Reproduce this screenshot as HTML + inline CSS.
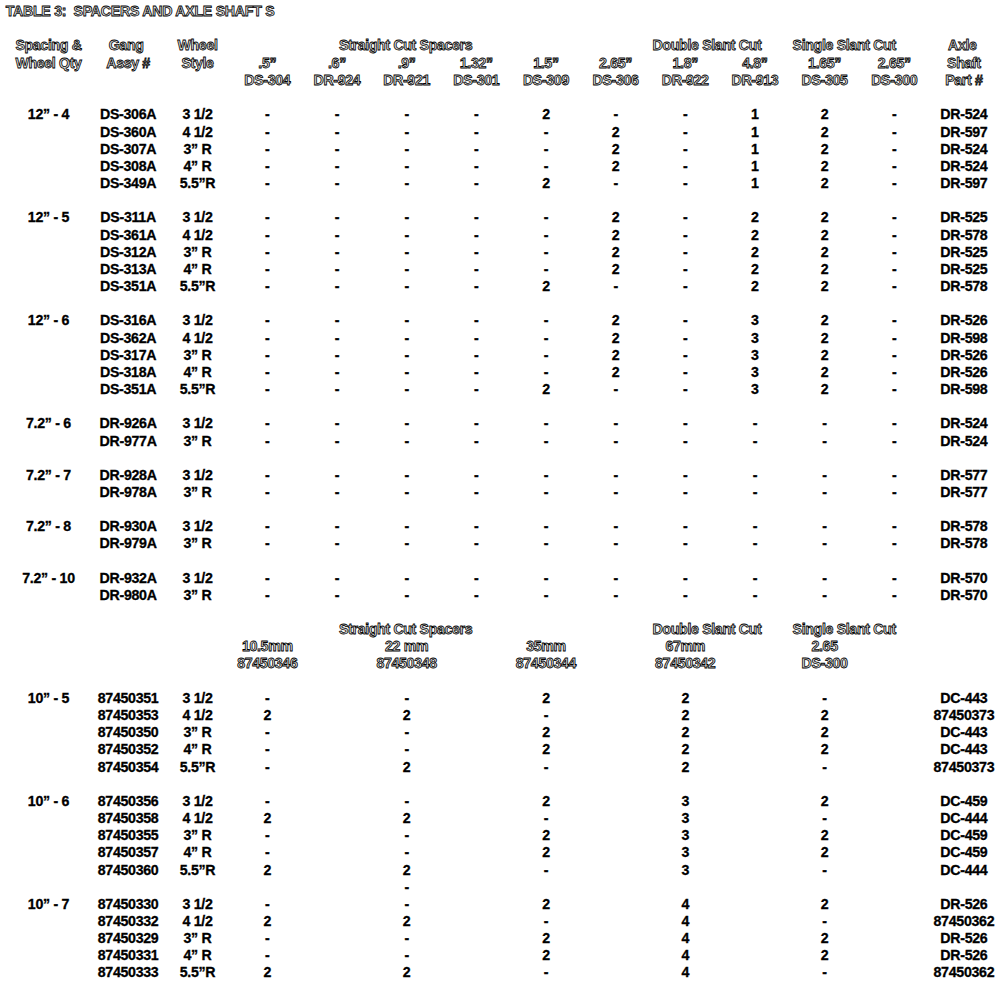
<!DOCTYPE html>
<html><head><meta charset="utf-8"><style>
html,body{margin:0;padding:0;background:#fff;}
body{width:1000px;height:984px;position:relative;overflow:hidden;font-family:"Liberation Sans",sans-serif;font-weight:bold;font-size:13.6px;line-height:17px;}
div{position:absolute;white-space:nowrap;height:17px;}
.c{width:120px;text-align:center;}
.d{color:#000;font-size:14.2px;letter-spacing:-0.3px;-webkit-text-stroke:0.3px #000;}
.h{color:#e2e2e2;font-size:14.2px;letter-spacing:-0.35px;-webkit-text-stroke:0.8px #000;}
</style></head><body>
<div class="h" style="left:5.70px;top:3.12px"><span style="letter-spacing:-0.28px">TABLE 3:&nbsp; SPACERS AND AXLE SHAFT S</span></div>
<div class="h c" style="left:-11.50px;top:37.44px">Spacing &amp;</div>
<div class="h c" style="left:-11.50px;top:54.60px">Wheel Qty</div>
<div class="h c" style="left:66.10px;top:37.44px">Gang</div>
<div class="h c" style="left:68.10px;top:54.60px">Assy #</div>
<div class="h c" style="left:137.50px;top:37.44px">Wheel</div>
<div class="h c" style="left:137.50px;top:54.60px">Style</div>
<div class="h" style="left:339.00px;top:37.44px">Straight Cut Spacers</div>
<div class="h" style="left:652.60px;top:37.44px">Double Slant Cut</div>
<div class="h" style="left:792.60px;top:37.44px">Single Slant Cut</div>
<div class="h c" style="left:902.40px;top:37.44px">Axle</div>
<div class="h c" style="left:903.90px;top:54.60px">Shaft</div>
<div class="h c" style="left:903.90px;top:71.76px">Part #</div>
<div class="h c" style="left:207.30px;top:54.60px">.5”</div>
<div class="h c" style="left:207.30px;top:71.76px">DS-304</div>
<div class="h c" style="left:276.96px;top:54.60px">.6”</div>
<div class="h c" style="left:276.96px;top:71.76px">DR-924</div>
<div class="h c" style="left:346.62px;top:54.60px">.9”</div>
<div class="h c" style="left:346.62px;top:71.76px">DR-921</div>
<div class="h c" style="left:416.28px;top:54.60px">1.32”</div>
<div class="h c" style="left:416.28px;top:71.76px">DS-301</div>
<div class="h c" style="left:485.94px;top:54.60px">1.5”</div>
<div class="h c" style="left:485.94px;top:71.76px">DS-309</div>
<div class="h c" style="left:555.60px;top:54.60px">2.65”</div>
<div class="h c" style="left:555.60px;top:71.76px">DS-306</div>
<div class="h c" style="left:625.26px;top:54.60px">1.8”</div>
<div class="h c" style="left:625.26px;top:71.76px">DR-922</div>
<div class="h c" style="left:694.92px;top:54.60px">4.8”</div>
<div class="h c" style="left:694.92px;top:71.76px">DR-913</div>
<div class="h c" style="left:764.58px;top:54.60px">1.65”</div>
<div class="h c" style="left:764.58px;top:71.76px">DS-305</div>
<div class="h c" style="left:834.24px;top:54.60px">2.65”</div>
<div class="h c" style="left:834.24px;top:71.76px">DS-300</div>
<div class="d c" style="left:-11.50px;top:106.48px">12” - 4</div>
<div class="d c" style="left:68.10px;top:106.48px">DS-306A</div>
<div class="d c" style="left:137.50px;top:106.48px">3 1/2</div>
<div class="d c" style="left:207.30px;top:106.48px">-</div>
<div class="d c" style="left:276.96px;top:106.48px">-</div>
<div class="d c" style="left:346.62px;top:106.48px">-</div>
<div class="d c" style="left:416.28px;top:106.48px">-</div>
<div class="d c" style="left:485.94px;top:106.48px">2</div>
<div class="d c" style="left:555.60px;top:106.48px">-</div>
<div class="d c" style="left:625.26px;top:106.48px">-</div>
<div class="d c" style="left:694.92px;top:106.48px">1</div>
<div class="d c" style="left:764.58px;top:106.48px">2</div>
<div class="d c" style="left:834.24px;top:106.48px">-</div>
<div class="d c" style="left:903.90px;top:106.48px">DR-524</div>
<div class="d c" style="left:68.10px;top:123.64px">DS-360A</div>
<div class="d c" style="left:137.50px;top:123.64px">4 1/2</div>
<div class="d c" style="left:207.30px;top:123.64px">-</div>
<div class="d c" style="left:276.96px;top:123.64px">-</div>
<div class="d c" style="left:346.62px;top:123.64px">-</div>
<div class="d c" style="left:416.28px;top:123.64px">-</div>
<div class="d c" style="left:485.94px;top:123.64px">-</div>
<div class="d c" style="left:555.60px;top:123.64px">2</div>
<div class="d c" style="left:625.26px;top:123.64px">-</div>
<div class="d c" style="left:694.92px;top:123.64px">1</div>
<div class="d c" style="left:764.58px;top:123.64px">2</div>
<div class="d c" style="left:834.24px;top:123.64px">-</div>
<div class="d c" style="left:903.90px;top:123.64px">DR-597</div>
<div class="d c" style="left:68.10px;top:140.80px">DS-307A</div>
<div class="d c" style="left:137.50px;top:140.80px">3” R</div>
<div class="d c" style="left:207.30px;top:140.80px">-</div>
<div class="d c" style="left:276.96px;top:140.80px">-</div>
<div class="d c" style="left:346.62px;top:140.80px">-</div>
<div class="d c" style="left:416.28px;top:140.80px">-</div>
<div class="d c" style="left:485.94px;top:140.80px">-</div>
<div class="d c" style="left:555.60px;top:140.80px">2</div>
<div class="d c" style="left:625.26px;top:140.80px">-</div>
<div class="d c" style="left:694.92px;top:140.80px">1</div>
<div class="d c" style="left:764.58px;top:140.80px">2</div>
<div class="d c" style="left:834.24px;top:140.80px">-</div>
<div class="d c" style="left:903.90px;top:140.80px">DR-524</div>
<div class="d c" style="left:68.10px;top:157.96px">DS-308A</div>
<div class="d c" style="left:137.50px;top:157.96px">4” R</div>
<div class="d c" style="left:207.30px;top:157.96px">-</div>
<div class="d c" style="left:276.96px;top:157.96px">-</div>
<div class="d c" style="left:346.62px;top:157.96px">-</div>
<div class="d c" style="left:416.28px;top:157.96px">-</div>
<div class="d c" style="left:485.94px;top:157.96px">-</div>
<div class="d c" style="left:555.60px;top:157.96px">2</div>
<div class="d c" style="left:625.26px;top:157.96px">-</div>
<div class="d c" style="left:694.92px;top:157.96px">1</div>
<div class="d c" style="left:764.58px;top:157.96px">2</div>
<div class="d c" style="left:834.24px;top:157.96px">-</div>
<div class="d c" style="left:903.90px;top:157.96px">DR-524</div>
<div class="d c" style="left:68.10px;top:175.12px">DS-349A</div>
<div class="d c" style="left:137.50px;top:175.12px">5.5”R</div>
<div class="d c" style="left:207.30px;top:175.12px">-</div>
<div class="d c" style="left:276.96px;top:175.12px">-</div>
<div class="d c" style="left:346.62px;top:175.12px">-</div>
<div class="d c" style="left:416.28px;top:175.12px">-</div>
<div class="d c" style="left:485.94px;top:175.12px">2</div>
<div class="d c" style="left:555.60px;top:175.12px">-</div>
<div class="d c" style="left:625.26px;top:175.12px">-</div>
<div class="d c" style="left:694.92px;top:175.12px">1</div>
<div class="d c" style="left:764.58px;top:175.12px">2</div>
<div class="d c" style="left:834.24px;top:175.12px">-</div>
<div class="d c" style="left:903.90px;top:175.12px">DR-597</div>
<div class="d c" style="left:-11.50px;top:209.44px">12” - 5</div>
<div class="d c" style="left:68.10px;top:209.44px">DS-311A</div>
<div class="d c" style="left:137.50px;top:209.44px">3 1/2</div>
<div class="d c" style="left:207.30px;top:209.44px">-</div>
<div class="d c" style="left:276.96px;top:209.44px">-</div>
<div class="d c" style="left:346.62px;top:209.44px">-</div>
<div class="d c" style="left:416.28px;top:209.44px">-</div>
<div class="d c" style="left:485.94px;top:209.44px">-</div>
<div class="d c" style="left:555.60px;top:209.44px">2</div>
<div class="d c" style="left:625.26px;top:209.44px">-</div>
<div class="d c" style="left:694.92px;top:209.44px">2</div>
<div class="d c" style="left:764.58px;top:209.44px">2</div>
<div class="d c" style="left:834.24px;top:209.44px">-</div>
<div class="d c" style="left:903.90px;top:209.44px">DR-525</div>
<div class="d c" style="left:68.10px;top:226.60px">DS-361A</div>
<div class="d c" style="left:137.50px;top:226.60px">4 1/2</div>
<div class="d c" style="left:207.30px;top:226.60px">-</div>
<div class="d c" style="left:276.96px;top:226.60px">-</div>
<div class="d c" style="left:346.62px;top:226.60px">-</div>
<div class="d c" style="left:416.28px;top:226.60px">-</div>
<div class="d c" style="left:485.94px;top:226.60px">-</div>
<div class="d c" style="left:555.60px;top:226.60px">2</div>
<div class="d c" style="left:625.26px;top:226.60px">-</div>
<div class="d c" style="left:694.92px;top:226.60px">2</div>
<div class="d c" style="left:764.58px;top:226.60px">2</div>
<div class="d c" style="left:834.24px;top:226.60px">-</div>
<div class="d c" style="left:903.90px;top:226.60px">DR-578</div>
<div class="d c" style="left:68.10px;top:243.76px">DS-312A</div>
<div class="d c" style="left:137.50px;top:243.76px">3” R</div>
<div class="d c" style="left:207.30px;top:243.76px">-</div>
<div class="d c" style="left:276.96px;top:243.76px">-</div>
<div class="d c" style="left:346.62px;top:243.76px">-</div>
<div class="d c" style="left:416.28px;top:243.76px">-</div>
<div class="d c" style="left:485.94px;top:243.76px">-</div>
<div class="d c" style="left:555.60px;top:243.76px">2</div>
<div class="d c" style="left:625.26px;top:243.76px">-</div>
<div class="d c" style="left:694.92px;top:243.76px">2</div>
<div class="d c" style="left:764.58px;top:243.76px">2</div>
<div class="d c" style="left:834.24px;top:243.76px">-</div>
<div class="d c" style="left:903.90px;top:243.76px">DR-525</div>
<div class="d c" style="left:68.10px;top:260.92px">DS-313A</div>
<div class="d c" style="left:137.50px;top:260.92px">4” R</div>
<div class="d c" style="left:207.30px;top:260.92px">-</div>
<div class="d c" style="left:276.96px;top:260.92px">-</div>
<div class="d c" style="left:346.62px;top:260.92px">-</div>
<div class="d c" style="left:416.28px;top:260.92px">-</div>
<div class="d c" style="left:485.94px;top:260.92px">-</div>
<div class="d c" style="left:555.60px;top:260.92px">2</div>
<div class="d c" style="left:625.26px;top:260.92px">-</div>
<div class="d c" style="left:694.92px;top:260.92px">2</div>
<div class="d c" style="left:764.58px;top:260.92px">2</div>
<div class="d c" style="left:834.24px;top:260.92px">-</div>
<div class="d c" style="left:903.90px;top:260.92px">DR-525</div>
<div class="d c" style="left:68.10px;top:278.08px">DS-351A</div>
<div class="d c" style="left:137.50px;top:278.08px">5.5”R</div>
<div class="d c" style="left:207.30px;top:278.08px">-</div>
<div class="d c" style="left:276.96px;top:278.08px">-</div>
<div class="d c" style="left:346.62px;top:278.08px">-</div>
<div class="d c" style="left:416.28px;top:278.08px">-</div>
<div class="d c" style="left:485.94px;top:278.08px">2</div>
<div class="d c" style="left:555.60px;top:278.08px">-</div>
<div class="d c" style="left:625.26px;top:278.08px">-</div>
<div class="d c" style="left:694.92px;top:278.08px">2</div>
<div class="d c" style="left:764.58px;top:278.08px">2</div>
<div class="d c" style="left:834.24px;top:278.08px">-</div>
<div class="d c" style="left:903.90px;top:278.08px">DR-578</div>
<div class="d c" style="left:-11.50px;top:312.40px">12” - 6</div>
<div class="d c" style="left:68.10px;top:312.40px">DS-316A</div>
<div class="d c" style="left:137.50px;top:312.40px">3 1/2</div>
<div class="d c" style="left:207.30px;top:312.40px">-</div>
<div class="d c" style="left:276.96px;top:312.40px">-</div>
<div class="d c" style="left:346.62px;top:312.40px">-</div>
<div class="d c" style="left:416.28px;top:312.40px">-</div>
<div class="d c" style="left:485.94px;top:312.40px">-</div>
<div class="d c" style="left:555.60px;top:312.40px">2</div>
<div class="d c" style="left:625.26px;top:312.40px">-</div>
<div class="d c" style="left:694.92px;top:312.40px">3</div>
<div class="d c" style="left:764.58px;top:312.40px">2</div>
<div class="d c" style="left:834.24px;top:312.40px">-</div>
<div class="d c" style="left:903.90px;top:312.40px">DR-526</div>
<div class="d c" style="left:68.10px;top:329.56px">DS-362A</div>
<div class="d c" style="left:137.50px;top:329.56px">4 1/2</div>
<div class="d c" style="left:207.30px;top:329.56px">-</div>
<div class="d c" style="left:276.96px;top:329.56px">-</div>
<div class="d c" style="left:346.62px;top:329.56px">-</div>
<div class="d c" style="left:416.28px;top:329.56px">-</div>
<div class="d c" style="left:485.94px;top:329.56px">-</div>
<div class="d c" style="left:555.60px;top:329.56px">2</div>
<div class="d c" style="left:625.26px;top:329.56px">-</div>
<div class="d c" style="left:694.92px;top:329.56px">3</div>
<div class="d c" style="left:764.58px;top:329.56px">2</div>
<div class="d c" style="left:834.24px;top:329.56px">-</div>
<div class="d c" style="left:903.90px;top:329.56px">DR-598</div>
<div class="d c" style="left:68.10px;top:346.72px">DS-317A</div>
<div class="d c" style="left:137.50px;top:346.72px">3” R</div>
<div class="d c" style="left:207.30px;top:346.72px">-</div>
<div class="d c" style="left:276.96px;top:346.72px">-</div>
<div class="d c" style="left:346.62px;top:346.72px">-</div>
<div class="d c" style="left:416.28px;top:346.72px">-</div>
<div class="d c" style="left:485.94px;top:346.72px">-</div>
<div class="d c" style="left:555.60px;top:346.72px">2</div>
<div class="d c" style="left:625.26px;top:346.72px">-</div>
<div class="d c" style="left:694.92px;top:346.72px">3</div>
<div class="d c" style="left:764.58px;top:346.72px">2</div>
<div class="d c" style="left:834.24px;top:346.72px">-</div>
<div class="d c" style="left:903.90px;top:346.72px">DR-526</div>
<div class="d c" style="left:68.10px;top:363.88px">DS-318A</div>
<div class="d c" style="left:137.50px;top:363.88px">4” R</div>
<div class="d c" style="left:207.30px;top:363.88px">-</div>
<div class="d c" style="left:276.96px;top:363.88px">-</div>
<div class="d c" style="left:346.62px;top:363.88px">-</div>
<div class="d c" style="left:416.28px;top:363.88px">-</div>
<div class="d c" style="left:485.94px;top:363.88px">-</div>
<div class="d c" style="left:555.60px;top:363.88px">2</div>
<div class="d c" style="left:625.26px;top:363.88px">-</div>
<div class="d c" style="left:694.92px;top:363.88px">3</div>
<div class="d c" style="left:764.58px;top:363.88px">2</div>
<div class="d c" style="left:834.24px;top:363.88px">-</div>
<div class="d c" style="left:903.90px;top:363.88px">DR-526</div>
<div class="d c" style="left:68.10px;top:381.04px">DS-351A</div>
<div class="d c" style="left:137.50px;top:381.04px">5.5”R</div>
<div class="d c" style="left:207.30px;top:381.04px">-</div>
<div class="d c" style="left:276.96px;top:381.04px">-</div>
<div class="d c" style="left:346.62px;top:381.04px">-</div>
<div class="d c" style="left:416.28px;top:381.04px">-</div>
<div class="d c" style="left:485.94px;top:381.04px">2</div>
<div class="d c" style="left:555.60px;top:381.04px">-</div>
<div class="d c" style="left:625.26px;top:381.04px">-</div>
<div class="d c" style="left:694.92px;top:381.04px">3</div>
<div class="d c" style="left:764.58px;top:381.04px">2</div>
<div class="d c" style="left:834.24px;top:381.04px">-</div>
<div class="d c" style="left:903.90px;top:381.04px">DR-598</div>
<div class="d c" style="left:-11.50px;top:415.36px">7.2” - 6</div>
<div class="d c" style="left:68.10px;top:415.36px">DR-926A</div>
<div class="d c" style="left:137.50px;top:415.36px">3 1/2</div>
<div class="d c" style="left:207.30px;top:415.36px">-</div>
<div class="d c" style="left:276.96px;top:415.36px">-</div>
<div class="d c" style="left:346.62px;top:415.36px">-</div>
<div class="d c" style="left:416.28px;top:415.36px">-</div>
<div class="d c" style="left:485.94px;top:415.36px">-</div>
<div class="d c" style="left:555.60px;top:415.36px">-</div>
<div class="d c" style="left:625.26px;top:415.36px">-</div>
<div class="d c" style="left:694.92px;top:415.36px">-</div>
<div class="d c" style="left:764.58px;top:415.36px">-</div>
<div class="d c" style="left:834.24px;top:415.36px">-</div>
<div class="d c" style="left:903.90px;top:415.36px">DR-524</div>
<div class="d c" style="left:68.10px;top:432.52px">DR-977A</div>
<div class="d c" style="left:137.50px;top:432.52px">3” R</div>
<div class="d c" style="left:207.30px;top:432.52px">-</div>
<div class="d c" style="left:276.96px;top:432.52px">-</div>
<div class="d c" style="left:346.62px;top:432.52px">-</div>
<div class="d c" style="left:416.28px;top:432.52px">-</div>
<div class="d c" style="left:485.94px;top:432.52px">-</div>
<div class="d c" style="left:555.60px;top:432.52px">-</div>
<div class="d c" style="left:625.26px;top:432.52px">-</div>
<div class="d c" style="left:694.92px;top:432.52px">-</div>
<div class="d c" style="left:764.58px;top:432.52px">-</div>
<div class="d c" style="left:834.24px;top:432.52px">-</div>
<div class="d c" style="left:903.90px;top:432.52px">DR-524</div>
<div class="d c" style="left:-11.50px;top:466.84px">7.2” - 7</div>
<div class="d c" style="left:68.10px;top:466.84px">DR-928A</div>
<div class="d c" style="left:137.50px;top:466.84px">3 1/2</div>
<div class="d c" style="left:207.30px;top:466.84px">-</div>
<div class="d c" style="left:276.96px;top:466.84px">-</div>
<div class="d c" style="left:346.62px;top:466.84px">-</div>
<div class="d c" style="left:416.28px;top:466.84px">-</div>
<div class="d c" style="left:485.94px;top:466.84px">-</div>
<div class="d c" style="left:555.60px;top:466.84px">-</div>
<div class="d c" style="left:625.26px;top:466.84px">-</div>
<div class="d c" style="left:694.92px;top:466.84px">-</div>
<div class="d c" style="left:764.58px;top:466.84px">-</div>
<div class="d c" style="left:834.24px;top:466.84px">-</div>
<div class="d c" style="left:903.90px;top:466.84px">DR-577</div>
<div class="d c" style="left:68.10px;top:484.00px">DR-978A</div>
<div class="d c" style="left:137.50px;top:484.00px">3” R</div>
<div class="d c" style="left:207.30px;top:484.00px">-</div>
<div class="d c" style="left:276.96px;top:484.00px">-</div>
<div class="d c" style="left:346.62px;top:484.00px">-</div>
<div class="d c" style="left:416.28px;top:484.00px">-</div>
<div class="d c" style="left:485.94px;top:484.00px">-</div>
<div class="d c" style="left:555.60px;top:484.00px">-</div>
<div class="d c" style="left:625.26px;top:484.00px">-</div>
<div class="d c" style="left:694.92px;top:484.00px">-</div>
<div class="d c" style="left:764.58px;top:484.00px">-</div>
<div class="d c" style="left:834.24px;top:484.00px">-</div>
<div class="d c" style="left:903.90px;top:484.00px">DR-577</div>
<div class="d c" style="left:-11.50px;top:518.32px">7.2” - 8</div>
<div class="d c" style="left:68.10px;top:518.32px">DR-930A</div>
<div class="d c" style="left:137.50px;top:518.32px">3 1/2</div>
<div class="d c" style="left:207.30px;top:518.32px">-</div>
<div class="d c" style="left:276.96px;top:518.32px">-</div>
<div class="d c" style="left:346.62px;top:518.32px">-</div>
<div class="d c" style="left:416.28px;top:518.32px">-</div>
<div class="d c" style="left:485.94px;top:518.32px">-</div>
<div class="d c" style="left:555.60px;top:518.32px">-</div>
<div class="d c" style="left:625.26px;top:518.32px">-</div>
<div class="d c" style="left:694.92px;top:518.32px">-</div>
<div class="d c" style="left:764.58px;top:518.32px">-</div>
<div class="d c" style="left:834.24px;top:518.32px">-</div>
<div class="d c" style="left:903.90px;top:518.32px">DR-578</div>
<div class="d c" style="left:68.10px;top:535.48px">DR-979A</div>
<div class="d c" style="left:137.50px;top:535.48px">3” R</div>
<div class="d c" style="left:207.30px;top:535.48px">-</div>
<div class="d c" style="left:276.96px;top:535.48px">-</div>
<div class="d c" style="left:346.62px;top:535.48px">-</div>
<div class="d c" style="left:416.28px;top:535.48px">-</div>
<div class="d c" style="left:485.94px;top:535.48px">-</div>
<div class="d c" style="left:555.60px;top:535.48px">-</div>
<div class="d c" style="left:625.26px;top:535.48px">-</div>
<div class="d c" style="left:694.92px;top:535.48px">-</div>
<div class="d c" style="left:764.58px;top:535.48px">-</div>
<div class="d c" style="left:834.24px;top:535.48px">-</div>
<div class="d c" style="left:903.90px;top:535.48px">DR-578</div>
<div class="d c" style="left:-11.50px;top:569.80px">7.2” - 10</div>
<div class="d c" style="left:68.10px;top:569.80px">DR-932A</div>
<div class="d c" style="left:137.50px;top:569.80px">3 1/2</div>
<div class="d c" style="left:207.30px;top:569.80px">-</div>
<div class="d c" style="left:276.96px;top:569.80px">-</div>
<div class="d c" style="left:346.62px;top:569.80px">-</div>
<div class="d c" style="left:416.28px;top:569.80px">-</div>
<div class="d c" style="left:485.94px;top:569.80px">-</div>
<div class="d c" style="left:555.60px;top:569.80px">-</div>
<div class="d c" style="left:625.26px;top:569.80px">-</div>
<div class="d c" style="left:694.92px;top:569.80px">-</div>
<div class="d c" style="left:764.58px;top:569.80px">-</div>
<div class="d c" style="left:834.24px;top:569.80px">-</div>
<div class="d c" style="left:903.90px;top:569.80px">DR-570</div>
<div class="d c" style="left:68.10px;top:586.96px">DR-980A</div>
<div class="d c" style="left:137.50px;top:586.96px">3” R</div>
<div class="d c" style="left:207.30px;top:586.96px">-</div>
<div class="d c" style="left:276.96px;top:586.96px">-</div>
<div class="d c" style="left:346.62px;top:586.96px">-</div>
<div class="d c" style="left:416.28px;top:586.96px">-</div>
<div class="d c" style="left:485.94px;top:586.96px">-</div>
<div class="d c" style="left:555.60px;top:586.96px">-</div>
<div class="d c" style="left:625.26px;top:586.96px">-</div>
<div class="d c" style="left:694.92px;top:586.96px">-</div>
<div class="d c" style="left:764.58px;top:586.96px">-</div>
<div class="d c" style="left:834.24px;top:586.96px">-</div>
<div class="d c" style="left:903.90px;top:586.96px">DR-570</div>
<div class="h" style="left:339.00px;top:620.88px">Straight Cut Spacers</div>
<div class="h" style="left:652.60px;top:620.88px">Double Slant Cut</div>
<div class="h" style="left:792.60px;top:620.88px">Single Slant Cut</div>
<div class="h c" style="left:207.30px;top:638.04px">10.5mm</div>
<div class="h c" style="left:207.30px;top:655.20px">87450346</div>
<div class="h c" style="left:346.62px;top:638.04px">22 mm</div>
<div class="h c" style="left:346.62px;top:655.20px">87450348</div>
<div class="h c" style="left:485.94px;top:638.04px">35mm</div>
<div class="h c" style="left:485.94px;top:655.20px">87450344</div>
<div class="h c" style="left:625.26px;top:638.04px">67mm</div>
<div class="h c" style="left:625.26px;top:655.20px">87450342</div>
<div class="h c" style="left:764.58px;top:638.04px">2.65</div>
<div class="h c" style="left:764.58px;top:655.20px">DS-300</div>
<div class="d c" style="left:-11.50px;top:689.92px">10” - 5</div>
<div class="d c" style="left:68.10px;top:689.92px">87450351</div>
<div class="d c" style="left:137.50px;top:689.92px">3 1/2</div>
<div class="d c" style="left:207.30px;top:689.92px">-</div>
<div class="d c" style="left:346.62px;top:689.92px">-</div>
<div class="d c" style="left:485.94px;top:689.92px">2</div>
<div class="d c" style="left:625.26px;top:689.92px">2</div>
<div class="d c" style="left:764.58px;top:689.92px">-</div>
<div class="d c" style="left:903.90px;top:689.92px">DC-443</div>
<div class="d c" style="left:68.10px;top:707.08px">87450353</div>
<div class="d c" style="left:137.50px;top:707.08px">4 1/2</div>
<div class="d c" style="left:207.30px;top:707.08px">2</div>
<div class="d c" style="left:346.62px;top:707.08px">2</div>
<div class="d c" style="left:485.94px;top:707.08px">-</div>
<div class="d c" style="left:625.26px;top:707.08px">2</div>
<div class="d c" style="left:764.58px;top:707.08px">2</div>
<div class="d c" style="left:903.90px;top:707.08px">87450373</div>
<div class="d c" style="left:68.10px;top:724.24px">87450350</div>
<div class="d c" style="left:137.50px;top:724.24px">3” R</div>
<div class="d c" style="left:207.30px;top:724.24px">-</div>
<div class="d c" style="left:346.62px;top:724.24px">-</div>
<div class="d c" style="left:485.94px;top:724.24px">2</div>
<div class="d c" style="left:625.26px;top:724.24px">2</div>
<div class="d c" style="left:764.58px;top:724.24px">2</div>
<div class="d c" style="left:903.90px;top:724.24px">DC-443</div>
<div class="d c" style="left:68.10px;top:741.40px">87450352</div>
<div class="d c" style="left:137.50px;top:741.40px">4” R</div>
<div class="d c" style="left:207.30px;top:741.40px">-</div>
<div class="d c" style="left:346.62px;top:741.40px">-</div>
<div class="d c" style="left:485.94px;top:741.40px">2</div>
<div class="d c" style="left:625.26px;top:741.40px">2</div>
<div class="d c" style="left:764.58px;top:741.40px">2</div>
<div class="d c" style="left:903.90px;top:741.40px">DC-443</div>
<div class="d c" style="left:68.10px;top:758.56px">87450354</div>
<div class="d c" style="left:137.50px;top:758.56px">5.5”R</div>
<div class="d c" style="left:207.30px;top:758.56px">-</div>
<div class="d c" style="left:346.62px;top:758.56px">2</div>
<div class="d c" style="left:485.94px;top:758.56px">-</div>
<div class="d c" style="left:625.26px;top:758.56px">2</div>
<div class="d c" style="left:764.58px;top:758.56px">-</div>
<div class="d c" style="left:903.90px;top:758.56px">87450373</div>
<div class="d c" style="left:-11.50px;top:792.88px">10” - 6</div>
<div class="d c" style="left:68.10px;top:792.88px">87450356</div>
<div class="d c" style="left:137.50px;top:792.88px">3 1/2</div>
<div class="d c" style="left:207.30px;top:792.88px">-</div>
<div class="d c" style="left:346.62px;top:792.88px">-</div>
<div class="d c" style="left:485.94px;top:792.88px">2</div>
<div class="d c" style="left:625.26px;top:792.88px">3</div>
<div class="d c" style="left:764.58px;top:792.88px">2</div>
<div class="d c" style="left:903.90px;top:792.88px">DC-459</div>
<div class="d c" style="left:68.10px;top:810.04px">87450358</div>
<div class="d c" style="left:137.50px;top:810.04px">4 1/2</div>
<div class="d c" style="left:207.30px;top:810.04px">2</div>
<div class="d c" style="left:346.62px;top:810.04px">2</div>
<div class="d c" style="left:485.94px;top:810.04px">-</div>
<div class="d c" style="left:625.26px;top:810.04px">3</div>
<div class="d c" style="left:764.58px;top:810.04px">-</div>
<div class="d c" style="left:903.90px;top:810.04px">DC-444</div>
<div class="d c" style="left:68.10px;top:827.20px">87450355</div>
<div class="d c" style="left:137.50px;top:827.20px">3” R</div>
<div class="d c" style="left:207.30px;top:827.20px">-</div>
<div class="d c" style="left:346.62px;top:827.20px">-</div>
<div class="d c" style="left:485.94px;top:827.20px">2</div>
<div class="d c" style="left:625.26px;top:827.20px">3</div>
<div class="d c" style="left:764.58px;top:827.20px">2</div>
<div class="d c" style="left:903.90px;top:827.20px">DC-459</div>
<div class="d c" style="left:68.10px;top:844.36px">87450357</div>
<div class="d c" style="left:137.50px;top:844.36px">4” R</div>
<div class="d c" style="left:207.30px;top:844.36px">-</div>
<div class="d c" style="left:346.62px;top:844.36px">-</div>
<div class="d c" style="left:485.94px;top:844.36px">2</div>
<div class="d c" style="left:625.26px;top:844.36px">3</div>
<div class="d c" style="left:764.58px;top:844.36px">2</div>
<div class="d c" style="left:903.90px;top:844.36px">DC-459</div>
<div class="d c" style="left:68.10px;top:861.52px">87450360</div>
<div class="d c" style="left:137.50px;top:861.52px">5.5”R</div>
<div class="d c" style="left:207.30px;top:861.52px">2</div>
<div class="d c" style="left:346.62px;top:861.52px">2</div>
<div class="d c" style="left:485.94px;top:861.52px">-</div>
<div class="d c" style="left:625.26px;top:861.52px">3</div>
<div class="d c" style="left:764.58px;top:861.52px">-</div>
<div class="d c" style="left:903.90px;top:861.52px">DC-444</div>
<div class="d c" style="left:-11.50px;top:895.84px">10” - 7</div>
<div class="d c" style="left:68.10px;top:895.84px">87450330</div>
<div class="d c" style="left:137.50px;top:895.84px">3 1/2</div>
<div class="d c" style="left:207.30px;top:895.84px">-</div>
<div class="d c" style="left:346.62px;top:895.84px">-</div>
<div class="d c" style="left:485.94px;top:895.84px">2</div>
<div class="d c" style="left:625.26px;top:895.84px">4</div>
<div class="d c" style="left:764.58px;top:895.84px">2</div>
<div class="d c" style="left:903.90px;top:895.84px">DR-526</div>
<div class="d c" style="left:68.10px;top:913.00px">87450332</div>
<div class="d c" style="left:137.50px;top:913.00px">4 1/2</div>
<div class="d c" style="left:207.30px;top:913.00px">2</div>
<div class="d c" style="left:346.62px;top:913.00px">2</div>
<div class="d c" style="left:485.94px;top:913.00px">-</div>
<div class="d c" style="left:625.26px;top:913.00px">4</div>
<div class="d c" style="left:764.58px;top:913.00px">-</div>
<div class="d c" style="left:903.90px;top:913.00px">87450362</div>
<div class="d c" style="left:68.10px;top:930.16px">87450329</div>
<div class="d c" style="left:137.50px;top:930.16px">3” R</div>
<div class="d c" style="left:207.30px;top:930.16px">-</div>
<div class="d c" style="left:346.62px;top:930.16px">-</div>
<div class="d c" style="left:485.94px;top:930.16px">2</div>
<div class="d c" style="left:625.26px;top:930.16px">4</div>
<div class="d c" style="left:764.58px;top:930.16px">2</div>
<div class="d c" style="left:903.90px;top:930.16px">DR-526</div>
<div class="d c" style="left:68.10px;top:947.32px">87450331</div>
<div class="d c" style="left:137.50px;top:947.32px">4” R</div>
<div class="d c" style="left:207.30px;top:947.32px">-</div>
<div class="d c" style="left:346.62px;top:947.32px">-</div>
<div class="d c" style="left:485.94px;top:947.32px">2</div>
<div class="d c" style="left:625.26px;top:947.32px">4</div>
<div class="d c" style="left:764.58px;top:947.32px">2</div>
<div class="d c" style="left:903.90px;top:947.32px">DR-526</div>
<div class="d c" style="left:68.10px;top:964.48px">87450333</div>
<div class="d c" style="left:137.50px;top:964.48px">5.5”R</div>
<div class="d c" style="left:207.30px;top:964.48px">2</div>
<div class="d c" style="left:346.62px;top:964.48px">2</div>
<div class="d c" style="left:485.94px;top:964.48px">-</div>
<div class="d c" style="left:625.26px;top:964.48px">4</div>
<div class="d c" style="left:764.58px;top:964.48px">-</div>
<div class="d c" style="left:903.90px;top:964.48px">87450362</div>
<div class="d c" style="left:346.62px;top:878.68px">-</div>
</body></html>
